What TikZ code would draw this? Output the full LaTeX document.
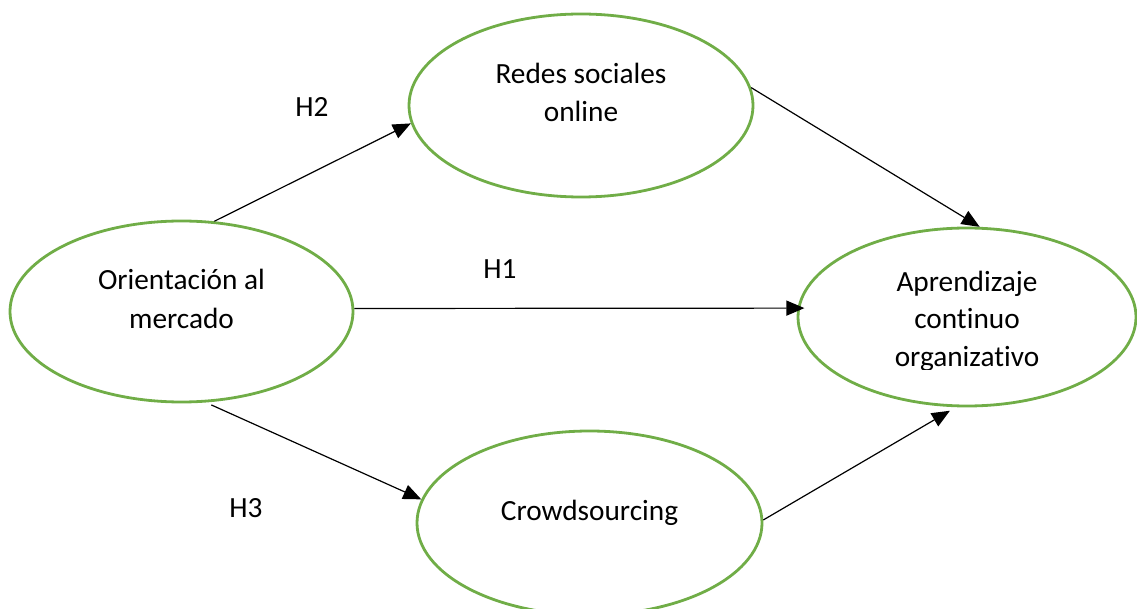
\documentclass[tikz,border=0pt]{standalone}
\usepackage{fontspec}
\setmainfont{Carlito}[Ligatures={NoCommon,NoRare}]
\usetikzlibrary{shapes.geometric,arrows.meta}

\definecolor{ovalgreen}{HTML}{70AD47}

\tikzset{
  oval/.style={ellipse, draw=ovalgreen, line width=2.8pt, inner sep=0pt},
  caption/.style={font=\fontsize{29.3}{38.5}\selectfont, align=center, anchor=base, inner sep=0pt},
  hlabel/.style={font=\fontsize{29.3}{35}\selectfont, anchor=base, inner sep=0pt},
  link/.style={line width=1.2pt, -{Triangle[length=18pt,width=15pt]}}
}

\begin{document}
\begin{tikzpicture}[x=1pt,y=-1pt]
  \path[use as bounding box] (0,0) rectangle (1137,609);

  % the four constructs
  \node[oval, minimum width=343pt, minimum height=181pt] (market) at (181.5,311.5) {};
  \node[oval, minimum width=344pt, minimum height=183pt] (social) at (581,105.5) {};
  \node[oval, minimum width=338pt, minimum height=178pt] (learning) at (967,317) {};
  \node[oval, minimum width=345pt, minimum height=184pt] (crowd) at (589.5,523) {};

  % their captions (base = baseline of the last line)
  \node[caption] (tmarket) at (181.5,328) {Orientación al\\mercado};
  \node[caption] (tsocial) at (581,122) {Redes sociales\\online};
  \begin{scope}
    \clip (800,240) rectangle (1130,369);
    \node[caption, font=\fontsize{29.3}{37}\selectfont] (tlearning) at (967,366) {Aprendizaje\\continuo\\organizativo};
  \end{scope}
  \node[caption] (tcrowd) at (589.5,520) {Crowdsourcing};

  % hypothesis labels
  \node[hlabel] (h2) at (312,117) {H2};
  \node[hlabel] (h1) at (500,279) {H1};
  \node[hlabel] (h3) at (246,517) {H3};

  % hypothesised paths
  \draw[link] (market.70) -- (social.186);
  \draw[link, shorten >=-7pt] (market.1) -- (learning.177.5);
  \draw[link, shorten <=6pt] (market.-75) -- (crowd.172.5);
  \draw[link] (social.6) -- (learning.82);
  \draw[link, shorten >=7pt] (crowd.1.5) -- (learning.-97);
\end{tikzpicture}
\end{document}
